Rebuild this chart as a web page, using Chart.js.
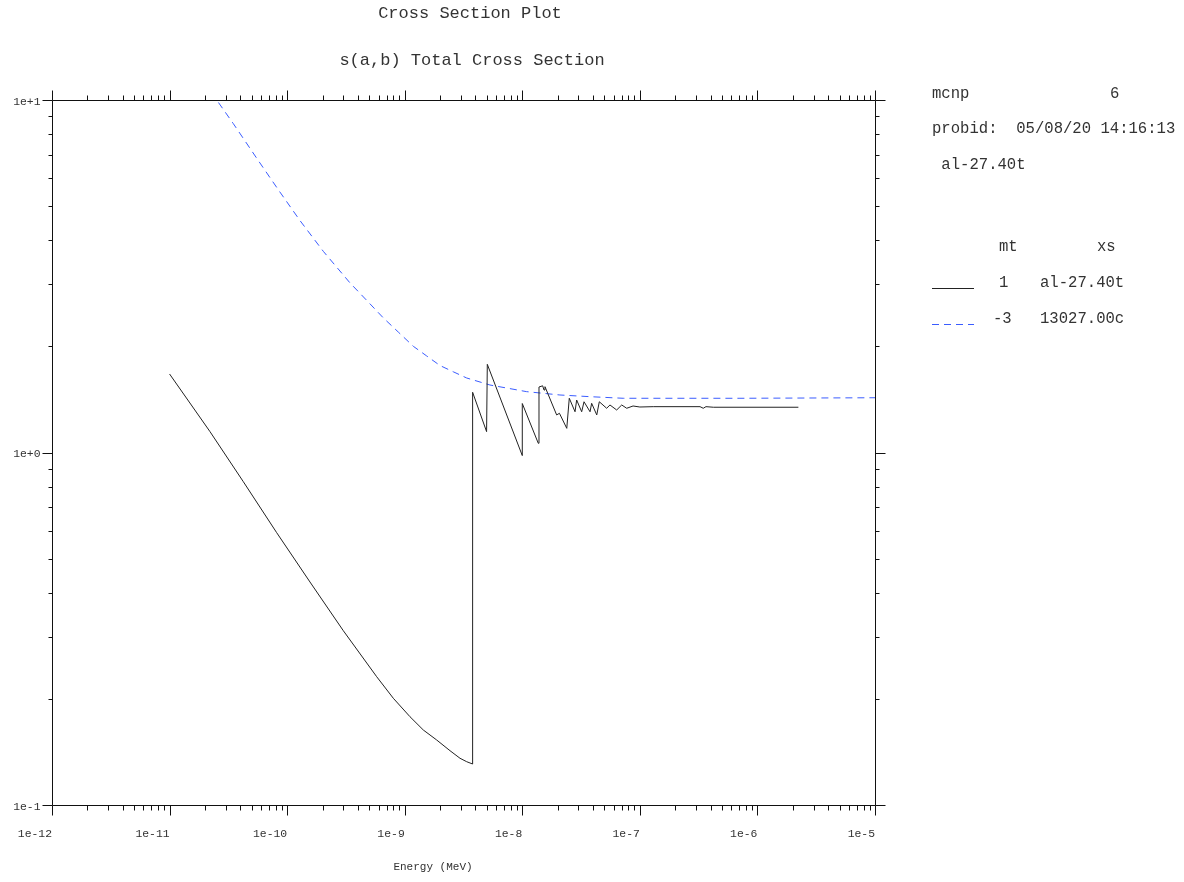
<!DOCTYPE html>
<html>
<head>
<meta charset="utf-8">
<title>Cross Section Plot</title>
<script src="https://cdn.jsdelivr.net/npm/chart.js@4.4.1/dist/chart.umd.min.js"></script>
<style>
  html, body { margin: 0; padding: 0; background: #fff; }
  #wrap { position: relative; width: 1184px; height: 882px; }
  #wrap canvas { position: absolute; left: 0; top: 0; }
  .txt {
    position: absolute; white-space: pre; color: #333;
    font-family: "Liberation Mono", "DejaVu Sans Mono", monospace;
    line-height: 1;
  }
  .big { font-size: 17px; }
  .side { font-size: 15.6px; }
  .small { font-size: 11px; }
</style>
</head>
<body>
<div id="wrap">
  <canvas id="xsChart" width="1184" height="882"></canvas>
  <div class="txt big" style="left:0;width:940px;text-align:center;top:5px">Cross Section Plot</div>
  <div class="txt big" style="left:0;width:944px;text-align:center;top:52px">s(a,b) Total Cross Section</div>
  <div class="txt side" style="left:932px;top:87px">mcnp</div>
  <div class="txt side" style="left:1110px;top:87px">6</div>
  <div class="txt side" style="left:932px;top:122px">probid:  05/08/20 14:16:13</div>
  <div class="txt side" style="left:932px;top:158px"> al-27.40t</div>
  <div class="txt side" style="left:999px;top:240px">mt</div>
  <div class="txt side" style="left:1097px;top:240px">xs</div>
  <div class="txt side" style="left:999px;top:276px">1</div>
  <div class="txt side" style="left:1040px;top:276px">al-27.40t</div>
  <div class="txt side" style="left:993px;top:312px">-3</div>
  <div class="txt side" style="left:1040px;top:312px">13027.00c</div>
  <div class="txt small" style="left:0;width:866px;text-align:center;top:862px">Energy (MeV)</div>
</div>
<script>
// asse x: energia (MeV), asse y: sezione d'urto (barn)
const xTickValues = [1e-12, 1e-11, 1e-10, 1e-9, 1e-8, 1e-7, 1e-6, 1e-5];
const xTickLabels = ['1e-12', '1e-11', '1e-10', '1e-9', '1e-8', '1e-7', '1e-6', '1e-5'];
const yTickValues = [1e-1, 1e0, 1e1];
const yTickLabels = ['1e-1', '1e+0', '1e+1'];

// mt 1 : al-27.40t (S(a,b) termico)
const thermalE = [
  1.0e-11, 2.207e-11, 4.24e-11, 8.145e-11, 1.564e-10, 3.005e-10, 5.775e-10, 8.0e-10,
  1.109e-9, 1.44e-9, 1.87e-9, 2.427e-9, 2.953e-9, 3.365e-9, 3.78e-9, 3.78e-9,
  4.97e-9, 5.04e-9, 1.0e-8, 1.0e-8,
  1.368e-8, 1.387e-8, 1.49e-8, 1.53e-8, 1.56e-8, 1.96e-8, 2.07e-8, 2.39e-8,
  2.51e-8, 2.81e-8, 2.90e-8, 3.20e-8, 3.35e-8, 3.77e-8, 3.89e-8, 4.30e-8,
  4.52e-8, 5.22e-8, 5.57e-8, 6.35e-8, 7.01e-8, 7.73e-8, 8.75e-8, 1.0e-7,
  1.30e-7, 3.25e-7, 3.46e-7, 3.65e-7, 4.22e-7, 2.23e-6
];
const thermalXS = [
  1.67, 1.146, 0.8263, 0.5924, 0.4292, 0.3122, 0.2312, 0.2008,
  0.178, 0.1632, 0.1529, 0.1426, 0.1357, 0.1327, 0.1307, 1.482,
  1.146, 1.779, 0.98, 1.377,
  1.062, 1.534, 1.546, 1.504, 1.537, 1.278, 1.292, 1.171,
  1.425, 1.305, 1.409, 1.305, 1.393, 1.305, 1.379, 1.278,
  1.393, 1.335, 1.364, 1.32, 1.364, 1.335, 1.355, 1.346,
  1.349, 1.349, 1.335, 1.349, 1.344, 1.344
];

// mt -3 : 13027.00c (gas libero)
const freeE = [
  2.0e-11, 2.516e-11, 3.486e-11, 5.506e-11, 8.415e-11, 1.286e-10, 2.032e-10, 3.424e-10,
  4.747e-10, 6.578e-10, 8.823e-10, 1.184e-9, 1.537e-9, 1.995e-9, 2.591e-9, 3.365e-9,
  5.31e-9, 1.09e-8, 2.09e-8, 3.77e-8, 7.23e-8, 7.1e-7, 1e-5
];
const freeXS = [
  11.2, 10.0, 8.567, 6.838, 5.563, 4.549, 3.72, 3.028,
  2.702, 2.409, 2.196, 2.001, 1.879, 1.765, 1.694, 1.627,
  1.554, 1.488, 1.456, 1.44, 1.425, 1.425, 1.43
];

function punti(xs, ys) {
  return xs.map((e, i) => ({ x: e, y: ys[i] }));
}

// cornice, tacche su tutti i lati, etichette e campioni di legenda
const cornice = {
  id: 'cornice',
  afterDraw(chart) {
    const ctx = chart.ctx;
    const a = chart.chartArea;
    const sx = chart.scales.x, sy = chart.scales.y;
    const px = v => Math.round(sx.getPixelForValue(v)) + 0.5;
    const py = v => Math.round(sy.getPixelForValue(v)) + 0.5;
    const L = Math.round(a.left) + 0.5, R = Math.round(a.right) + 0.5;
    const T = Math.round(a.top) + 0.5, B = Math.round(a.bottom) + 0.5;

    ctx.save();
    ctx.strokeStyle = '#111';
    ctx.lineWidth = 1;
    ctx.beginPath();
    ctx.rect(L, T, R - L, B - T);

    // tacche asse x (sotto e sopra)
    xTickValues.forEach((v, i) => {
      const x = px(v);
      ctx.moveTo(x, B); ctx.lineTo(x, B + 10);
      ctx.moveTo(x, T); ctx.lineTo(x, T - 10);
      if (i < xTickValues.length - 1) {
        for (let m = 2; m <= 9; m++) {
          const xm = px(v * m);
          ctx.moveTo(xm, B); ctx.lineTo(xm, B + 5);
          ctx.moveTo(xm, T); ctx.lineTo(xm, T - 5);
        }
      }
    });
    // tacche asse y (sinistra e destra)
    yTickValues.forEach((v, i) => {
      const y = py(v);
      ctx.moveTo(L, y); ctx.lineTo(L - 10, y);
      ctx.moveTo(R, y); ctx.lineTo(R + 10, y);
      if (i < yTickValues.length - 1) {
        for (let m = 2; m <= 9; m++) {
          const ym = py(v * m);
          ctx.moveTo(L, ym); ctx.lineTo(L - 4, ym);
          ctx.moveTo(R, ym); ctx.lineTo(R + 4, ym);
        }
      }
    });
    ctx.stroke();

    // etichette
    ctx.fillStyle = '#333';
    ctx.font = '11.4px "Liberation Mono", monospace';
    ctx.textAlign = 'right';
    ctx.textBaseline = 'middle';
    xTickValues.forEach((v, i) => {
      ctx.fillText(xTickLabels[i], sx.getPixelForValue(v), B + 28);
    });
    yTickValues.forEach((v, i) => {
      ctx.fillText(yTickLabels[i], L - 12, sy.getPixelForValue(v) + 1.5);
    });

    // campioni di linea nella legenda
    const ds = chart.data.datasets;
    ctx.lineWidth = 1;
    ctx.strokeStyle = ds[0].borderColor;
    ctx.beginPath();
    ctx.moveTo(932, 288.5); ctx.lineTo(974, 288.5);
    ctx.stroke();
    ctx.strokeStyle = ds[1].borderColor;
    ctx.setLineDash(ds[1].borderDash);
    ctx.beginPath();
    ctx.moveTo(932, 324.5); ctx.lineTo(974, 324.5);
    ctx.stroke();
    ctx.restore();
  }
};

new Chart(document.getElementById('xsChart'), {
  type: 'scatter',
  data: {
    datasets: [
      {
        label: 'al-27.40t',
        data: punti(thermalE, thermalXS),
        showLine: true,
        borderColor: '#222',
        borderWidth: 1,
        pointRadius: 0,
        tension: 0
      },
      {
        label: '13027.00c',
        data: punti(freeE, freeXS),
        showLine: true,
        borderColor: '#3a5cff',
        borderWidth: 1,
        borderDash: [7, 5],
        pointRadius: 0,
        tension: 0
      }
    ]
  },
  options: {
    responsive: false,
    animation: false,
    layout: { padding: { left: 52, right: 309, top: 100, bottom: 77 } },
    plugins: {
      legend: { display: false },
      title: { display: false },
      tooltip: { enabled: false }
    },
    scales: {
      x: { type: 'logarithmic', min: 1e-12, max: 1e-5, display: false },
      y: { type: 'logarithmic', min: 0.1, max: 10, display: false }
    }
  },
  plugins: [cornice]
});
</script>
</body>
</html>
